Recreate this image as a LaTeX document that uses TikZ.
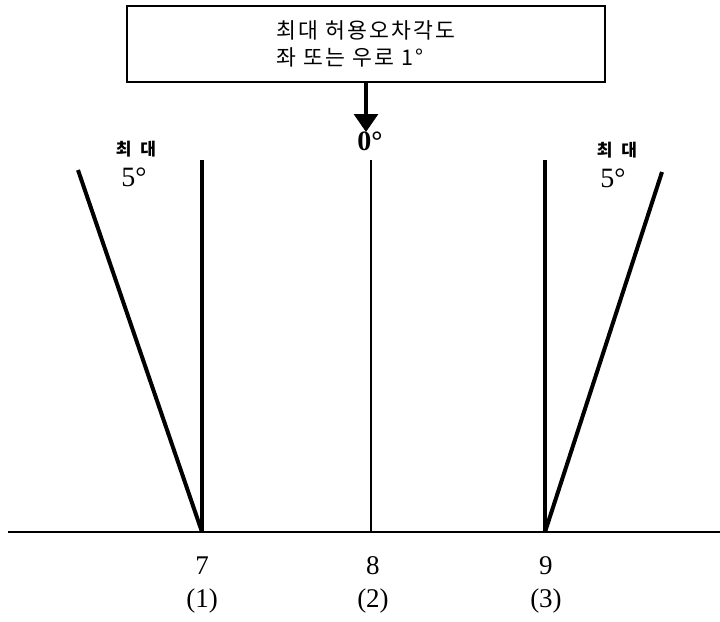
\documentclass[tikz,border=0pt]{standalone}
\usepackage{fontspec}
\setmainfont{Liberation Serif}
\newfontfamily\cjk[LetterSpace=10]{Noto Sans CJK KR}
\newfontfamily\cjkwide[LetterSpace=30]{Noto Sans CJK KR}
\usetikzlibrary{positioning, arrows.meta}

\begin{document}
\begin{tikzpicture}[
    x=0.5pt, y=-0.5pt,
    thick,
    notebox/.style={draw, line width=1.4pt, minimum width=239pt, minimum height=38pt,
        align=left, font=\cjk\fontsize{10.8}{13.5}\selectfont, inner sep=0pt},
    maxlabel/.style={font=\cjkwide\bfseries\fontsize{8.5}{9}\selectfont, inner sep=0pt},
    anglabel/.style={font=\fontsize{14}{16}\selectfont, inner sep=0pt},
    numlabel/.style={font=\fontsize{13.5}{16}\selectfont, inner sep=0pt},
    gauge/.style={line width=2pt},
    mid/.style={line width=1pt}
]
    \useasboundingbox (0,0) rectangle (720,622);

    % Kasten
    \node[notebox] (box) at (366,44) {최대 허용오차각도\\좌 또는 우로 1°};
    \coordinate (tip) at (366,132);
    \draw[line width=1.6pt, -{Triangle[width=12pt, length=9pt]}] (box) -- (tip);

    % Grundlinie
    \coordinate (bl) at (8,532);
    \coordinate (br) at (720,532);
    \draw[mid] (bl) -- (br);

    % Fusspunkte
    \coordinate (b7) at (202,532);
    \coordinate (b8) at (371,532);
    \coordinate (b9) at (545,532);

    % Spitzen
    \coordinate (t7) at (202,160);
    \coordinate (t8) at (371,160);
    \coordinate (t9) at (545,160);
    \coordinate (l7) at (78,170);
    \coordinate (r9) at (662,172);

    % Linien
    \draw[gauge] (b7) -- (t7);
    \draw[gauge] (b7) -- (l7);
    \draw[mid] (b8) -- (t8);
    \draw[gauge] (b9) -- (t9);
    \draw[gauge] (b9) -- (r9);

    % Winkel
    \node[maxlabel] (maxl) at (136,149) {최 대};
    \node[anglabel] (angl) at (134,177) {5°};
    \node[anglabel, font=\bfseries\fontsize{14}{16}\selectfont] (angm) at (370,141) {0°};
    \node[maxlabel] (maxr) at (617,150) {최 대};
    \node[anglabel] (angr) at (613,178) {5°};

    % Nummern
    \node[numlabel] (n7) at (202,566) {7};
    \node[numlabel] (p1) at (202,601) {(1)};
    \node[numlabel] (n8) at (373,566) {8};
    \node[numlabel] (p2) at (373,601) {(2)};
    \node[numlabel] (n9) at (546,566) {9};
    \node[numlabel] (p3) at (546,601) {(3)};
\end{tikzpicture}
\end{document}
